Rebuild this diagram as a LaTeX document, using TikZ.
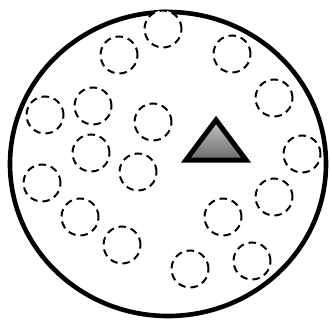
\documentclass[tikz,border=0pt]{standalone}
\begin{document}
\begin{tikzpicture}[x=1pt,y=-1pt,
  dc/.style={circle,draw=black,fill=white,line width=2pt,dash pattern=on 7.5pt off 5pt,minimum size=37pt,inner sep=0pt},
  outer/.style={draw=black,line width=4.6pt},
  tri/.style={draw=black,line width=5pt,line join=miter,top color=gray!45,bottom color=gray!70!black!90}]
\useasboundingbox (0,0) rectangle (332,321);
\draw[outer] (168,164) ellipse [x radius=158, y radius=152];
\foreach \n/\x/\y in {1/163/29,2/119/55,3/232/54,4/274/98,5/45/115,6/93/106,7/153/122,8/91/153,9/138/172,10/302/154,11/42/183,12/80/217,13/274/197,14/223/217,15/122/245,16/190/269,17/252/261}
  \node[dc] (c\n) at (\x,\y) {};
\path[tri] (216,120) -- (246,160) -- (186,160) -- cycle;
\end{tikzpicture}
\end{document}
